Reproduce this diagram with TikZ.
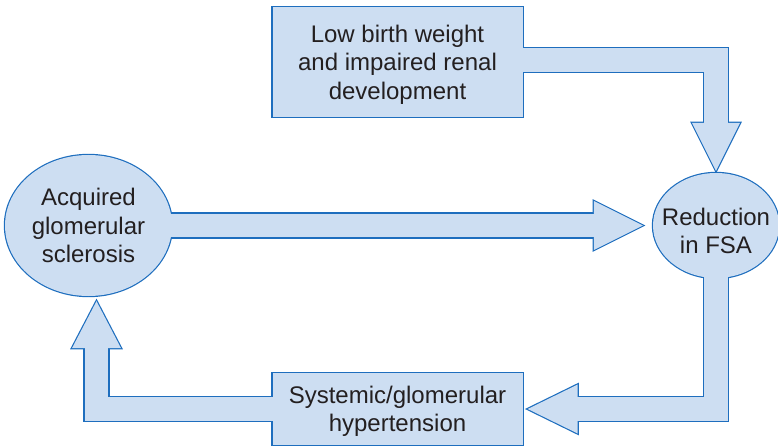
\documentclass[tikz,border=0pt]{standalone}
\usepackage{fontspec}
\setmainfont{Liberation Sans}
\usetikzlibrary{shapes.geometric,calc}
\definecolor{fillblue}{RGB}{205,222,242}
\definecolor{lineblue}{RGB}{30,110,190}
\definecolor{txt}{RGB}{35,31,32}
\pgfdeclarelayer{outer}
\pgfdeclarelayer{inner}
\pgfsetlayers{outer,inner,main}

% block arrows, drawn once for the rim and once for the fill
\newcommand\fatarrows{%
  \path[fatshaft] ($(low.center)+(0,-2)$) -| ($(fsa.north)+(0,-46)$);
  \path[fathead] ($(fsa.north)+(0,-2)$) -- ++(24,-48) -- ++(-48,0) -- cycle;
  \path[fatshaft] (acq.center) -- ($(fsa.west)+(-56,0)$);
  \path[fathead] ($(fsa.west)+(-10,0)$) -- ++(-49,-24.5) -- ++(0,49) -- cycle;
  \path[fatshaft] (fsa.center) |- ($(sys.east)+(52,0)$);
  \path[fathead] ($(sys.east)+(5,0)$) -- ++(50,-24.5) -- ++(0,49) -- cycle;
  \path[fatshaft] (sys.center) -| ($(acq.south)+(8,50)$);
  \path[fathead] ($(acq.south)+(8,5)$) -- ++(-24.5,47) -- ++(49,0) -- cycle;
}

\begin{document}
\begin{tikzpicture}[
        x=1pt, y=-1pt,
        font=\fontsize{24}{28.5}\selectfont,
        blk/.style={fill=fillblue, text=txt, align=center},
        rbox/.style={blk, rectangle, inner sep=0pt, minimum width=250pt, text depth=0pt},
        oval/.style={blk, ellipse, inner sep=-14pt},
        rim/.style={draw=lineblue, line width=2.4pt},
        rimpass/.style={fatshaft/.style={draw=lineblue, line width=26.2pt, line join=miter},
                        fathead/.style={draw=lineblue, line width=2.4pt, line join=miter}},
        fillpass/.style={fatshaft/.style={draw=fillblue, line width=23.8pt, line join=miter},
                         fathead/.style={fill=fillblue}}
    ]
        \useasboundingbox (0,0) rectangle (778,446);
        \node[rbox, minimum height=110pt] (low) at (397.5,62) {Low birth weight\\and impaired renal\\development};
        \node[oval, minimum width=167pt, minimum height=141pt] (acq) at (88.5,225.5) {Acquired\\glomerular\\sclerosis};
        \node[oval, minimum width=126pt, minimum height=105pt, text height=57pt] (fsa) at (716,225.5) {Reduction\\in FSA};
        \node[rbox, minimum height=72pt] (sys) at (397.5,409) {Systemic/glomerular\\hypertension};
        \begin{pgfonlayer}{outer}
            \draw[rim] (low.south west) rectangle (low.north east);
            \draw[rim] (sys.south west) rectangle (sys.north east);
            \draw[rim] (acq.center) ellipse [x radius=83.5, y radius=70.5];
            \draw[rim] (fsa.center) ellipse [x radius=63, y radius=52.5];
            \begin{scope}[rimpass] \fatarrows \end{scope}
        \end{pgfonlayer}
        \begin{pgfonlayer}{inner}
            \begin{scope}[fillpass] \fatarrows \end{scope}
        \end{pgfonlayer}
    \end{tikzpicture}
\end{document}
